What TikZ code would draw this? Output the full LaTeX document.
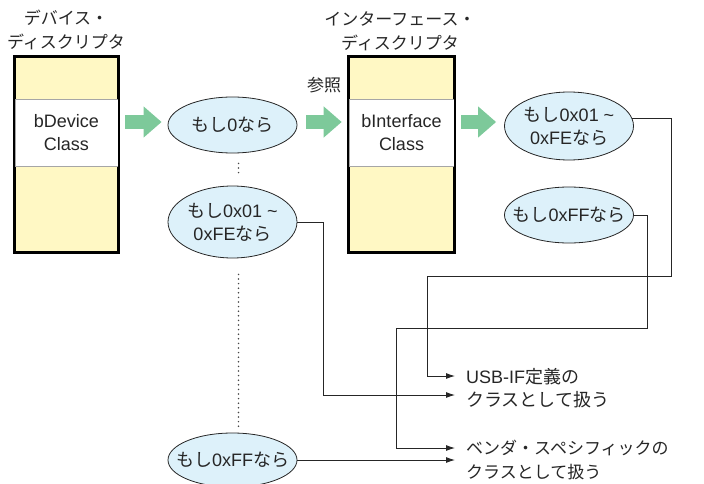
\documentclass[tikz,border=0pt]{standalone}
\usepackage{fontspec}
\setmainfont{Liberation Sans}
\newfontfamily\jpfont{Noto Sans CJK JP}
\newcommand\jtext[1]{{\jpfont #1}}
\usetikzlibrary{shapes.geometric,arrows.meta}
\definecolor{boxyellow}{HTML}{FFF8C4}
\definecolor{bubble}{HTML}{DDF1FA}
\definecolor{mint}{HTML}{7DC99A}
\definecolor{ink}{HTML}{262626}

\begin{document}
\begin{tikzpicture}[x=1pt,y=-1pt,
  txt/.style={text=ink, align=center, inner sep=0pt, font=\fontsize{18}{23}\selectfont},
  jtxt/.style={txt, font=\jpfont\fontsize{17}{24}\selectfont},
  descbox/.style={draw=black, line width=1.6pt, fill=boxyellow, minimum width=#1, minimum height=195pt, inner sep=0pt},
  band/.style={txt, draw=gray!70, line width=0.6pt, fill=white, minimum width=#1, minimum height=67pt},
  bubblenode/.style={ellipse, draw=ink, line width=0.8pt, fill=bubble, minimum width=129pt, minimum height=#1, inner sep=0pt},
  bigarrow/.style={draw=mint, line width=14pt, -{Triangle[length=18pt,width=30pt]}},
  link/.style={draw=ink, line width=0.9pt, -{Latex[length=9pt,width=6pt]}},
  dots/.style={draw=ink!85, line width=1.7pt, line cap=round, dash pattern=on 0pt off 4.6pt},
]
\useasboundingbox (0,0) rectangle (704,484);

% device descriptor
\node[descbox=103pt] (dev) at (66.5,154.5) {};
\node[band=103pt] (devband) at (66.5,132.5) {bDevice\\Class};
\draw[line width=1.6pt] (dev.north west) rectangle (dev.south east);
\node[jtxt] (devtitle) at (66,30) {デバイス・\\ディスクリプタ};

% interface descriptor
\node[descbox=105pt] (ifc) at (401.5,154.5) {};
\node[band=105pt] (ifcband) at (401.5,132.5) {bInterface\\Class};
\draw[line width=1.6pt] (ifc.north west) rectangle (ifc.south east);
\node[jtxt] (ifctitle) at (400,31) {インターフェース・\\ディスクリプタ};
\node[jtxt] (ref) at (324,85) {参照};

% conditions
\node[bubblenode=56pt] (e1) at (232.5,125) {};
\node[txt] (e1t) at (e1) {\jtext{もし}0\jtext{なら}};
\node[bubblenode=72pt] (e2) at (232.5,222) {};
\node[txt] (e2t) at (e2) {\jtext{もし}0x01 \textasciitilde\\0xFE\jtext{なら}};
\node[bubblenode=54pt] (e3) at (232.5,460) {};
\node[txt] (e3t) at (e3) {\jtext{もし}0xFF\jtext{なら}};
\node[bubblenode=68pt] (e4) at (569,126) {};
\node[txt] (e4t) at (e4) {\jtext{もし}0x01 \textasciitilde\\0xFE\jtext{なら}};
\node[bubblenode=56pt] (e5) at (569,215) {};
\node[txt] (e5t) at (e5) {\jtext{もし}0xFF\jtext{なら}};

% results
\node[txt, anchor=west, align=left] (usb) at (466,388) {USB-IF\jtext{定義の}\\\jtext{クラスとして扱う}};
\node[jtxt, anchor=west, align=left] (ven) at (466,460) {ベンダ・スペシフィックの\\クラスとして扱う};
\coordinate (usbA) at (455,376);
\coordinate (usbB) at (455,395);
\coordinate (venA) at (455,448);
\coordinate (venB) at (455,460);

% flow arrows
\draw[bigarrow, shorten <=7pt, shorten >=6pt] ([yshift=10.5pt]devband.east) -- ([yshift=3pt]e1.west);
\draw[bigarrow, shorten <=9pt, shorten >=7pt] ([yshift=3pt]e1.east) -- ([yshift=10.5pt]ifcband.west);
\draw[bigarrow, shorten <=7pt, shorten >=8pt] ([yshift=10.5pt]ifcband.east) -- ([yshift=4pt]e4.west);

% omitted cases
\draw[dots] ([xshift=6pt,yshift=-10pt]e1.south) -- ([xshift=6pt,yshift=13pt]e2.north);
\draw[dots] ([xshift=6pt,yshift=-16pt]e2.south) -- ([xshift=6pt,yshift=4pt]e3.north);

% routing to results
\draw[link] (e2.east) -| (323,395) -- (usbB);
\draw[link] (e3.east) -- (venB);
\draw[link] (e4.7) -| (671,276) -| (427,376) -- (usbA);
\draw[link] (e5.east) -| (647,328) -| (396,448) -- (venA);
\end{tikzpicture}
\end{document}
